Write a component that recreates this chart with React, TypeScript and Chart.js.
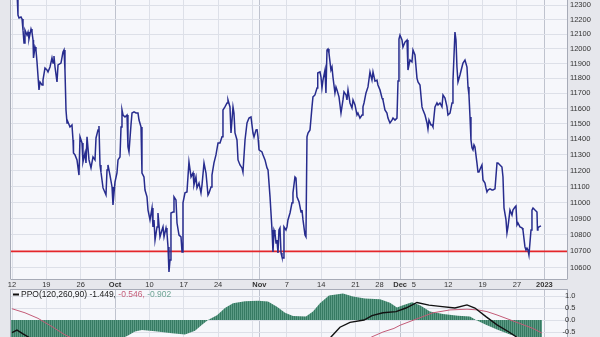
import React, { useEffect, useRef } from "react";
import { Chart, registerables } from "chart.js";

Chart.register(...registerables);

// ---------- DATA ----------
// session position (trading days from Sep 12, 2022) and close of the price line
const priceDay = [0.73,0.87,1.02,1.31,1.46,1.60,1.75,1.89,2.18,2.33,2.47,2.77,2.91,3.06,3.13,3.35,3.49,3.64,3.93,4.08,4.37,4.51,4.80,5.09,5.24,5.53,5.82,5.97,6.11,6.26,6.55,6.70,7.13,7.42,7.57,7.71,7.86,8.01,8.15,8.44,8.73,8.88,8.95,9.17,9.46,9.75,9.90,10.19,10.33,10.63,10.77,10.92,11.21,11.50,11.79,12.08,12.23,12.52,12.66,12.81,12.95,13.25,13.68,13.83,13.97,14.26,14.56,14.70,14.99,15.28,15.43,15.72,15.87,16.01,16.16,16.45,16.74,16.88,17.03,17.32,17.47,17.76,18.05,18.34,18.49,18.78,18.92,19.21,19.36,19.65,19.80,20.09,20.38,20.52,20.67,20.82,21.11,21.25,21.54,21.83,21.98,22.13,22.42,22.56,22.71,22.85,23.00,23.14,23.44,23.58,23.87,24.02,24.31,24.60,24.75,24.89,25.18,25.47,25.76,26.06,26.35,26.49,26.78,26.93,27.22,27.51,27.66,27.95,28.24,28.53,28.68,28.97,29.11,29.40,29.69,29.99,30.28,30.57,30.71,31.00,31.30,31.44,31.73,31.88,32.17,32.31,32.46,32.75,32.90,33.19,33.48,33.62,33.92,34.21,34.50,34.79,35.08,35.23,35.52,35.66,35.81,35.96,36.39,36.54,36.83,37.12,37.27,37.56,37.85,37.99,38.14,38.28,38.43,38.57,38.72,38.86,39.01,39.16,39.30,39.45,39.59,39.88,40.03,40.17,40.47,40.76,40.90,41.19,41.34,41.48,41.78,42.07,42.21,42.36,42.65,42.79,42.94,43.09,43.38,43.67,43.81,44.10,44.40,44.47,44.54,44.83,44.98,45.12,45.27,45.56,45.70,45.85,46.00,46.14,46.43,46.58,46.72,47.01,47.16,47.31,47.60,47.89,48.18,48.33,48.62,48.76,48.91,49.20,49.49,49.64,49.93,50.22,50.36,50.65,50.95,51.09,51.24,51.53,51.82,52.11,52.40,52.55,52.84,53.13,53.27,53.57,53.86,54.00,54.29,54.58,54.73,55.02,55.31,55.46,55.75,56.04,56.19,56.33,56.48,56.77,56.91,57.21,57.50,57.64,57.93,58.22,58.37,58.66,58.95,59.10,59.39,59.68,59.83,60.12,60.41,60.55,60.70,60.99,61.14,61.28,61.57,61.86,62.01,62.30,62.59,62.74,63.03,63.32,63.46,63.76,64.05,64.19,64.48,64.63,64.77,64.92,65.21,65.50,65.65,65.94,66.23,66.38,66.52,66.67,66.81,66.96,67.10,67.25,67.39,67.68,67.83,67.97,68.27,68.41,68.56,68.85,68.99,69.14,69.29,69.58,69.87,70.01,70.31,70.60,70.74,71.03,71.32,71.47,71.62,71.91,72.05,72.20,72.49,72.78,72.92,73.22,73.36,73.51,73.65,73.94,74.24,74.38,74.67,74.82,74.96,75.11,75.25,75.55,75.69,75.84,76.13,76.42,76.49,76.56,76.71,77.00];

const priceClose = [12390,12230,12210,12217,12203,12127,12039,12127,12093,12113,
12066,12134,12113,12059,11937,12011,11991,11910,11723,11776,
11756,11789,11869,11856,11843,11876,11937,11903,11950,11876,
11776,11890,11903,11977,11991,11856,11591,11506,11512,11480,
11493,11396,11313,11300,11268,11172,11416,11377,11255,11313,
11249,11416,11268,11217,11287,11268,11409,11461,11487,11236,
11191,11091,11047,11204,11236,11172,11097,10985,11128,11185,
11268,11287,11480,11591,11558,11545,11558,11351,11319,11493,
11571,11578,11571,11571,11525,11480,11185,11160,11078,11035,
10953,10892,10966,10849,10892,10769,10849,10935,10788,10830,
10849,10788,10843,10812,10727,10576,10648,10935,10941,11035,
11016,10873,10799,10788,10696,10998,11060,11066,11255,11160,
11185,11110,11160,11091,11122,11060,11110,11249,11185,11047,
11060,11097,11172,11249,11300,11377,11377,11416,11591,11611,
11637,11657,11611,11441,11611,11571,11441,11396,11268,11236,
11217,11191,11396,11506,11538,11545,11441,11416,11461,11467,
11416,11332,11319,11300,11268,11217,11204,11035,10830,10696,
10830,10812,10750,10769,10690,10830,10843,10690,10666,10660,
10849,10830,10849,10892,10935,10998,11060,11160,11153,11035,
11004,10941,10953,10892,10799,10788,11416,11441,11461,11611,
11677,11690,11736,11789,11836,11843,11809,11736,11789,11856,
11703,11991,11998,11970,11856,11876,11809,11703,11743,11723,
11677,11571,11657,11710,11690,11657,11723,11637,11604,11657,
11624,11558,11571,11538,11558,11611,11637,11703,11743,11843,
11789,11843,11782,11789,11756,11723,11670,11657,11591,11571,
11538,11506,11525,11538,11525,11538,11782,12066,12093,12059,
12011,12045,12059,11856,11923,11910,11991,11957,11802,11776,
11756,11611,11591,11558,11506,11467,11525,11493,11493,11480,
11611,11637,11624,11637,11611,11690,11670,11611,11558,11571,
11637,11782,12113,12059,11876,11776,11823,11876,11903,11923,
11876,11743,11690,11545,11396,11345,11332,11364,11351,11249,
11191,11191,11223,11236,11141,11122,11091,11066,11078,11085,
11078,11078,11085,11249,11249,11236,11223,11160,10966,10892,
10812,10849,10953,10922,10953,10972,10978,10861,10873,10849,
10843,10830,10727,10708,10720,10708,10678,10830,10953,10966,
10953,10941,10830,10843,10849,10855];

const supportLevel = 10700;
const priceTicks = [10600,10700,10800,10900,11000,11100,11200,11300,11400,11500,11600,11700,11800,11900,12000,12100,12200,12300];
const priceMin = 10534;
const priceMax = 12335;

const dayMin = -0.146;
const dayMax = 80.79;
const weekDay = [0,5,10,15,20,25,30,35,36,40,45,50,53.5,56.5,58.5,63.5,68.5,73.5,77.5];
const weekLabel = ["12","19","26","Oct","10","17","24","","Nov","7","14","21","28","Dec","5","12","19","27","2023"];
const periodLabels = ["Oct","Nov","Dec","2023"];

// PPO(120,260,90) panel
const histDay = [-0.15,4.08,8.44,12.81,15.72,16.89,17.90,18.92,20.82,23.29,25.18,26.64,27.66,28.53,29.84,31.00,32.17,33.92,35.81,37.26,38.57,39.74,40.90,42.79,43.81,44.83,46.14,48.18,49.64,51.38,53.57,55.02,56.04,56.91,58.22,59.39,60.84,62.74,64.92,66.67,67.54,68.99,70.60,72.49,73.94,75.40,77.15];
const histValue = [-1.00,-1.08,-1.12,-0.98,-0.80,-0.65,-0.48,-0.42,-0.47,-0.55,-0.60,-0.45,-0.20,0.00,0.20,0.50,0.70,0.78,0.80,0.77,0.55,0.30,0.17,0.15,0.35,0.70,1.02,1.10,0.98,0.90,0.86,0.72,0.52,0.62,0.74,0.62,0.35,0.25,0.18,0.15,0.00,-0.20,-0.40,-0.60,-0.72,-0.82,-0.90];
const ppoDay = [0,0.73,1.60,2.62,4.08,8.44,15.72,23.00,28.82,34.64,39.01,41.92,44.83,46.43,47.74,49.20,51.24,52.40,54.00,55.90,57.35,58.95,60.70,62.30,64.48,66.23,67.39,68.99,70.60,72.34,73.51,75.40,77.15];
const ppoValue = [-0.53,-0.42,-0.58,-0.75,-1.00,-1.60,-2.00,-2.10,-1.85,-1.10,-1.30,-1.70,-1.10,-0.71,-0.30,-0.10,0.00,0.18,0.30,0.35,0.50,0.73,0.62,0.57,0.50,0.63,0.50,0.14,-0.20,-0.50,-0.72,-1.10,-1.449];
const signalDay = [0,1.89,3.78,5.97,7.71,9.90,15.72,23.00,30.28,37.55,43.38,47.74,50.65,52.40,54.00,55.60,56.48,58.95,61.28,63.76,66.23,67.83,69.14,70.60,73.51,75.84,77.15];
const signalValue = [0.47,0.30,0.07,-0.30,-0.62,-0.90,-1.30,-1.60,-1.80,-1.90,-1.85,-1.50,-1.00,-0.70,-0.50,-0.35,-0.22,0.05,0.30,0.42,0.45,0.42,0.35,0.21,-0.10,-0.35,-0.546];
const ppoTicks = [-0.5, 0, 0.5, 1.0];
const ppoMin = -0.708;
const ppoMax = 1.292;
const ppoName = "PPO(120,260,90)";
const ppoLast = "-1.449";
const signalLast = "-0.546";
const histLast = "-0.902";

// ---------- STYLE ----------
const OUTER = "#e6e7ec";
const PLOT = "#f6f7fb";
const GRID = "#dde0e8";
const GRID_PERIOD = "#bfc3ce";
const FRAME = "#a7abb7";
const PRICE = "#272c8e";
const SUPPORT = "#e4262a";
const PPO_COLOR = "#111111";
const SIGNAL_COLOR = "#c45c78";
const FONT = "'Liberation Sans', Arial, sans-serif";

const pts = (xs: number[], ys: number[]) => xs.map((x, i) => ({ x, y: ys[i] }));

const framePlugin = (sides: { top: boolean; bottom: boolean }) => ({
  id: "frame",
  beforeDraw(chart: any) {
    const { ctx, chartArea, width, height } = chart;
    ctx.save();
    ctx.fillStyle = OUTER;
    ctx.fillRect(0, 0, width, height);
    ctx.fillStyle = PLOT;
    ctx.fillRect(chartArea.left, chartArea.top, chartArea.right - chartArea.left, chartArea.bottom - chartArea.top);
    ctx.restore();
  },
  afterDraw(chart: any) {
    const { ctx, chartArea } = chart;
    const { left, right, top, bottom } = chartArea;
    ctx.save();
    ctx.strokeStyle = FRAME;
    ctx.lineWidth = 1;
    ctx.beginPath();
    ctx.moveTo(left - 0.5, top);
    ctx.lineTo(left - 0.5, bottom);
    ctx.moveTo(right + 0.5, top);
    ctx.lineTo(right + 0.5, bottom);
    if (sides.top) {
      ctx.moveTo(left - 0.5, top + 0.5);
      ctx.lineTo(right + 0.5, top + 0.5);
    }
    if (sides.bottom) {
      ctx.moveTo(left - 0.5, bottom + 0.5);
      ctx.lineTo(right + 0.5, bottom + 0.5);
    }
    ctx.stroke();
    ctx.restore();
  },
});

// PPO legend text and right-aligned PPO axis labels
const ppoTextPlugin = {
  id: "ppoText",
  afterDraw(chart: any) {
    const { ctx, chartArea } = chart;
    const yScale = chart.scales.y;
    ctx.save();
    ctx.font = `8.5px ${FONT}`;
    ctx.textBaseline = "middle";
    const y = chartArea.top + 5.5;
    let x = chartArea.left + 2;
    ctx.fillStyle = PPO_COLOR;
    ctx.fillRect(x, y - 1, 6, 2);
    x += 8;
    const parts: [string, string][] = [
      [ppoName + " " + ppoLast + ",", "#222"],
      [" " + signalLast + ",", SIGNAL_COLOR],
      [" " + histLast, "#6fa595"],
    ];
    for (const [t, c] of parts) {
      ctx.fillStyle = c;
      ctx.fillText(t, x, y);
      x += ctx.measureText(t).width;
    }
    ctx.font = `7.5px ${FONT}`;
    ctx.textAlign = "right";
    ctx.fillStyle = "#333";
    for (const v of ppoTicks) {
      ctx.fillText(v.toFixed(1), chartArea.right + 8.5, yScale.getPixelForValue(v));
    }
    ctx.restore();
  },
};

const weekGridColor = (ctx: any) => {
  const lbl = weekLabel[ctx.index];
  return periodLabels.includes(lbl) ? GRID_PERIOD : GRID;
};

function makeStripes(): CanvasPattern | string {
  const c = document.createElement("canvas");
  c.width = 2;
  c.height = 2;
  const g = c.getContext("2d");
  if (!g) return "#468c74";
  g.fillStyle = "#367a62";
  g.fillRect(0, 0, 1, 2);
  g.fillStyle = "#5c9b85";
  g.fillRect(1, 0, 1, 2);
  const p = g.createPattern(c, "repeat");
  return p || "#468c74";
}

export default function App() {
  const topRef = useRef<HTMLCanvasElement>(null);
  const botRef = useRef<HTMLCanvasElement>(null);

  useEffect(() => {
    if (!topRef.current || !botRef.current) return;

    const xTickFont = (ctx: any) => {
      const lbl = weekLabel[ctx.index];
      const bold = periodLabels.includes(lbl);
      return { family: FONT, size: 7.5, weight: bold ? "bold" : "normal" } as any;
    };

    const top = new Chart(topRef.current, {
      type: "line",
      data: {
        datasets: [
          {
            data: pts(priceDay, priceClose),
            borderColor: PRICE,
            borderWidth: 1.5,
            pointRadius: 0,
            tension: 0,
            order: 1,
          },
          {
            data: pts([dayMin, dayMax], [supportLevel, supportLevel]),
            borderColor: SUPPORT,
            borderWidth: 1.6,
            pointRadius: 0,
            order: 2,
          },
        ],
      },
      options: {
        animation: false,
        responsive: false,
        maintainAspectRatio: false,
        layout: { padding: { left: 11, right: 0, top: 0, bottom: 0 } },
        plugins: { legend: { display: false }, tooltip: { enabled: false } },
        scales: {
          x: {
            type: "linear",
            min: dayMin,
            max: dayMax,
            afterBuildTicks: (s: any) => {
              s.ticks = weekDay.map((v) => ({ value: v }));
            },
            afterFit: (s: any) => {
              s.height = 10;
              s.paddingLeft = 0;
              s.paddingRight = 0;
            },
            ticks: {
              autoSkip: false,
              maxRotation: 0,
              minRotation: 0,
              padding: 1,
              color: "#333",
              font: xTickFont,
              callback: (_v: any, i: number) => weekLabel[i],
            },
            grid: { color: weekGridColor, drawTicks: false, lineWidth: 1 },
            border: { display: false },
          },
          y: {
            type: "logarithmic",
            position: "right",
            min: priceMin,
            max: priceMax,
            afterBuildTicks: (s: any) => {
              s.ticks = priceTicks.map((v) => ({ value: v }));
            },
            afterFit: (s: any) => {
              s.width = 33;
              s.paddingTop = 0;
              s.paddingBottom = 0;
            },
            ticks: {
              padding: 3,
              color: "#333",
              font: { family: FONT, size: 7.5 },
              callback: (v: any) => String(v),
            },
            grid: { color: GRID, drawTicks: false },
            border: { display: false },
          },
        },
      },
      plugins: [framePlugin({ top: false, bottom: true })],
    } as any);

    const bot = new Chart(botRef.current, {
      type: "line",
      data: {
        datasets: [
          {
            data: pts(ppoDay, ppoValue),
            borderColor: PPO_COLOR,
            borderWidth: 1.4,
            pointRadius: 0,
            order: 1,
          },
          {
            data: pts(signalDay, signalValue),
            borderColor: SIGNAL_COLOR,
            borderWidth: 1,
            pointRadius: 0,
            order: 2,
          },
          {
            data: pts(histDay, histValue),
            borderColor: "rgba(0,0,0,0)",
            borderWidth: 0,
            backgroundColor: makeStripes(),
            fill: "origin",
            pointRadius: 0,
            order: 3,
          },
        ],
      },
      options: {
        animation: false,
        responsive: false,
        maintainAspectRatio: false,
        layout: { padding: { left: 11, right: 0, top: 0, bottom: 0 } },
        plugins: { legend: { display: false }, tooltip: { enabled: false } },
        scales: {
          x: {
            type: "linear",
            min: dayMin,
            max: dayMax,
            afterBuildTicks: (s: any) => {
              s.ticks = weekDay.map((v) => ({ value: v }));
            },
            afterFit: (s: any) => {
              s.height = 0;
              s.paddingLeft = 0;
              s.paddingRight = 0;
            },
            ticks: { display: false },
            grid: { color: weekGridColor, drawTicks: false },
            border: { display: false },
          },
          y: {
            type: "linear",
            position: "right",
            min: ppoMin,
            max: ppoMax,
            afterBuildTicks: (s: any) => {
              s.ticks = ppoTicks.map((v) => ({ value: v }));
            },
            afterFit: (s: any) => {
              s.width = 33;
              s.paddingTop = 0;
              s.paddingBottom = 0;
            },
            ticks: { display: false },
            grid: { color: GRID, drawTicks: false },
            border: { display: false },
          },
        },
      },
      plugins: [framePlugin({ top: true, bottom: false }), ppoTextPlugin],
    } as any);

    return () => {
      top.destroy();
      bot.destroy();
    };
  }, []);

  return (
    <div style={{ position: "absolute", left: 0, top: 0, width: 600, height: 337, background: OUTER, overflow: "hidden" }}>
      <canvas ref={topRef} width={600} height={289} style={{ position: "absolute", left: 0, top: 0, width: 600, height: 289 }} />
      <canvas ref={botRef} width={600} height={48} style={{ position: "absolute", left: 0, top: 289, width: 600, height: 48 }} />
    </div>
  );
}
